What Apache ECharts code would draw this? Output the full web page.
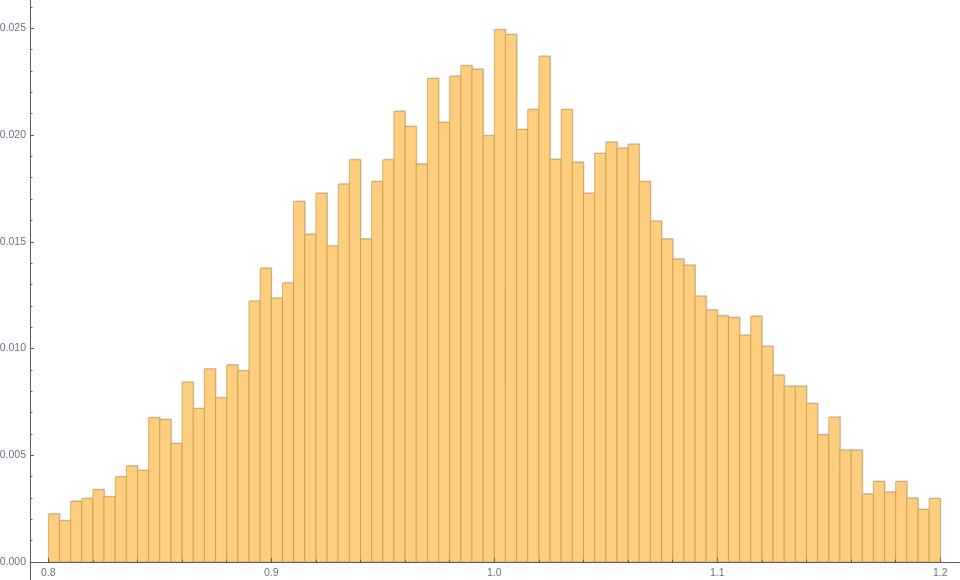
<!DOCTYPE html>
<html>
<head>
<meta charset="utf-8">
<script src="https://cdn.jsdelivr.net/npm/echarts@6/dist/echarts.min.js"></script>
<style>
html,body{margin:0;padding:0;background:#fff;}
#chart{width:960px;height:580px;}
</style>
</head>
<body>
<div id="chart"></div>
<script>
// Histogram: bins of width 0.005 from 0.8 to 1.2
const binStart = 0.8;
const binWidth = 0.005;
const densities = [
  0.00225, 0.00194, 0.00284, 0.00297, 0.00339, 0.00306, 0.00399, 0.00450, 0.00429, 0.00676,
  0.00667, 0.00555, 0.00842, 0.00719, 0.00904, 0.00769, 0.00923, 0.00896, 0.01222, 0.01376,
  0.01236, 0.01307, 0.01689, 0.01535, 0.01727, 0.01480, 0.01770, 0.01884, 0.01513, 0.01782,
  0.01884, 0.02111, 0.02040, 0.01864, 0.02265, 0.02059, 0.02275, 0.02325, 0.02308, 0.01997,
  0.02493, 0.02471, 0.02026, 0.02120, 0.02369, 0.01886, 0.02120, 0.01872, 0.01727, 0.01914,
  0.01966, 0.01938, 0.01957, 0.01782, 0.01596, 0.01513, 0.01419, 0.01390, 0.01245, 0.01181,
  0.01153, 0.01145, 0.01062, 0.01151, 0.01010, 0.00875, 0.00823, 0.00823, 0.00742, 0.00596,
  0.00678, 0.00524, 0.00524, 0.00318, 0.00377, 0.00327, 0.00377, 0.00299, 0.00246, 0.00297
];
const xMajorTicks = [0.8, 0.9, 1.0, 1.1, 1.2];
const xMinorTicks = [0.82, 0.84, 0.86, 0.88, 0.92, 0.94, 0.96, 0.98, 1.02, 1.04, 1.06, 1.08,
                     1.12, 1.14, 1.16, 1.18];
const yMajorTicks = [0.000, 0.005, 0.010, 0.015, 0.020, 0.025];
const yMinorTicks = [0.001, 0.002, 0.003, 0.004, 0.006, 0.007, 0.008, 0.009, 0.011, 0.012,
                     0.013, 0.014, 0.016, 0.017, 0.018, 0.019, 0.021, 0.022, 0.023, 0.024, 0.026];

const binData = densities.map((v, i) => [binStart + i * binWidth, binStart + (i + 1) * binWidth, v]);

const xMin = 0.79179, xMax = 1.20883;
const yMin = -0.000843, yMax = 0.026326;
const axisColor = '#5e5e5e';
const labelColor = '#687287';
const fontFamily = 'Liberation Sans, Arial, sans-serif';

const chart = echarts.init(document.getElementById('chart'), null, {renderer: 'canvas'});
chart.setOption({
  animation: false,
  backgroundColor: '#ffffff',
  grid: [
    {left: 30, right: 0, top: 0, bottom: 0, containLabel: false, outerBoundsMode: 'none'},
    {left: 30, right: 0, top: 0, bottom: 18, containLabel: false, outerBoundsMode: 'none'}
  ],
  xAxis: [
    {
      gridIndex: 0, type: 'value', min: xMin, max: xMax,
      axisLine: {show: false}, axisTick: {show: false}, axisLabel: {show: false}, splitLine: {show: false}
    },
    {
      gridIndex: 1, type: 'value', min: xMin, max: xMax, z: 5, position: 'bottom',
      axisLine: {show: true, onZero: false, lineStyle: {color: axisColor, width: 1}},
      axisTick: {show: true, inside: true, length: 4, customValues: xMajorTicks, lineStyle: {color: axisColor}},
      axisLabel: {show: true, customValues: xMajorTicks, margin: 6, color: labelColor, fontSize: 10.5,
                  fontFamily: fontFamily, formatter: v => v.toFixed(1)},
      splitLine: {show: false}
    },
    {
      gridIndex: 1, type: 'value', min: xMin, max: xMax, z: 5, position: 'bottom',
      axisLine: {show: false, onZero: false},
      axisTick: {show: true, inside: true, length: 2.5, customValues: xMinorTicks, lineStyle: {color: axisColor}},
      axisLabel: {show: false},
      splitLine: {show: false}
    }
  ],
  yAxis: [
    {
      gridIndex: 0, type: 'value', min: yMin, max: yMax, z: 5,
      axisLine: {show: true, onZero: false, lineStyle: {color: axisColor, width: 1}},
      axisTick: {show: true, inside: true, length: 4, customValues: yMajorTicks, lineStyle: {color: axisColor}},
      axisLabel: {show: true, customValues: yMajorTicks, margin: 4, color: labelColor, fontSize: 10.5,
                  fontFamily: fontFamily, formatter: v => v.toFixed(3)},
      splitLine: {show: false}
    },
    {
      gridIndex: 0, type: 'value', min: yMin, max: yMax, z: 5, position: 'left',
      axisLine: {show: false, onZero: false},
      axisTick: {show: true, inside: true, length: 2.5, customValues: yMinorTicks, lineStyle: {color: axisColor}},
      axisLabel: {show: false},
      splitLine: {show: false}
    },
    {
      gridIndex: 1, type: 'value', min: 0, max: yMax,
      axisLine: {show: false}, axisTick: {show: false}, axisLabel: {show: false}, splitLine: {show: false}
    }
  ],
  series: [{
    type: 'custom',
    xAxisIndex: 0,
    yAxisIndex: 0,
    z: 2,
    data: binData,
    encode: {x: [0, 1], y: 2},
    renderItem: function (params, api) {
      const pTop = api.coord([api.value(0), api.value(2)]);
      const pBot = api.coord([api.value(1), 0]);
      const w = pBot[0] - pTop[0];
      const h = pBot[1] - pTop[1];
      return {
        type: 'group',
        children: [
          {
            type: 'rect',
            shape: {x: pTop[0] + 1, y: pTop[1] - 1, width: w, height: h},
            style: {fill: '#d6d6d6', stroke: null}
          },
          {
            type: 'rect',
            shape: {x: pTop[0], y: pTop[1], width: w, height: h},
            style: {fill: '#fcce7e', stroke: 'rgba(200,150,72,0.7)', lineWidth: 1}
          }
        ]
      };
    }
  }]
});
</script>
</body>
</html>
